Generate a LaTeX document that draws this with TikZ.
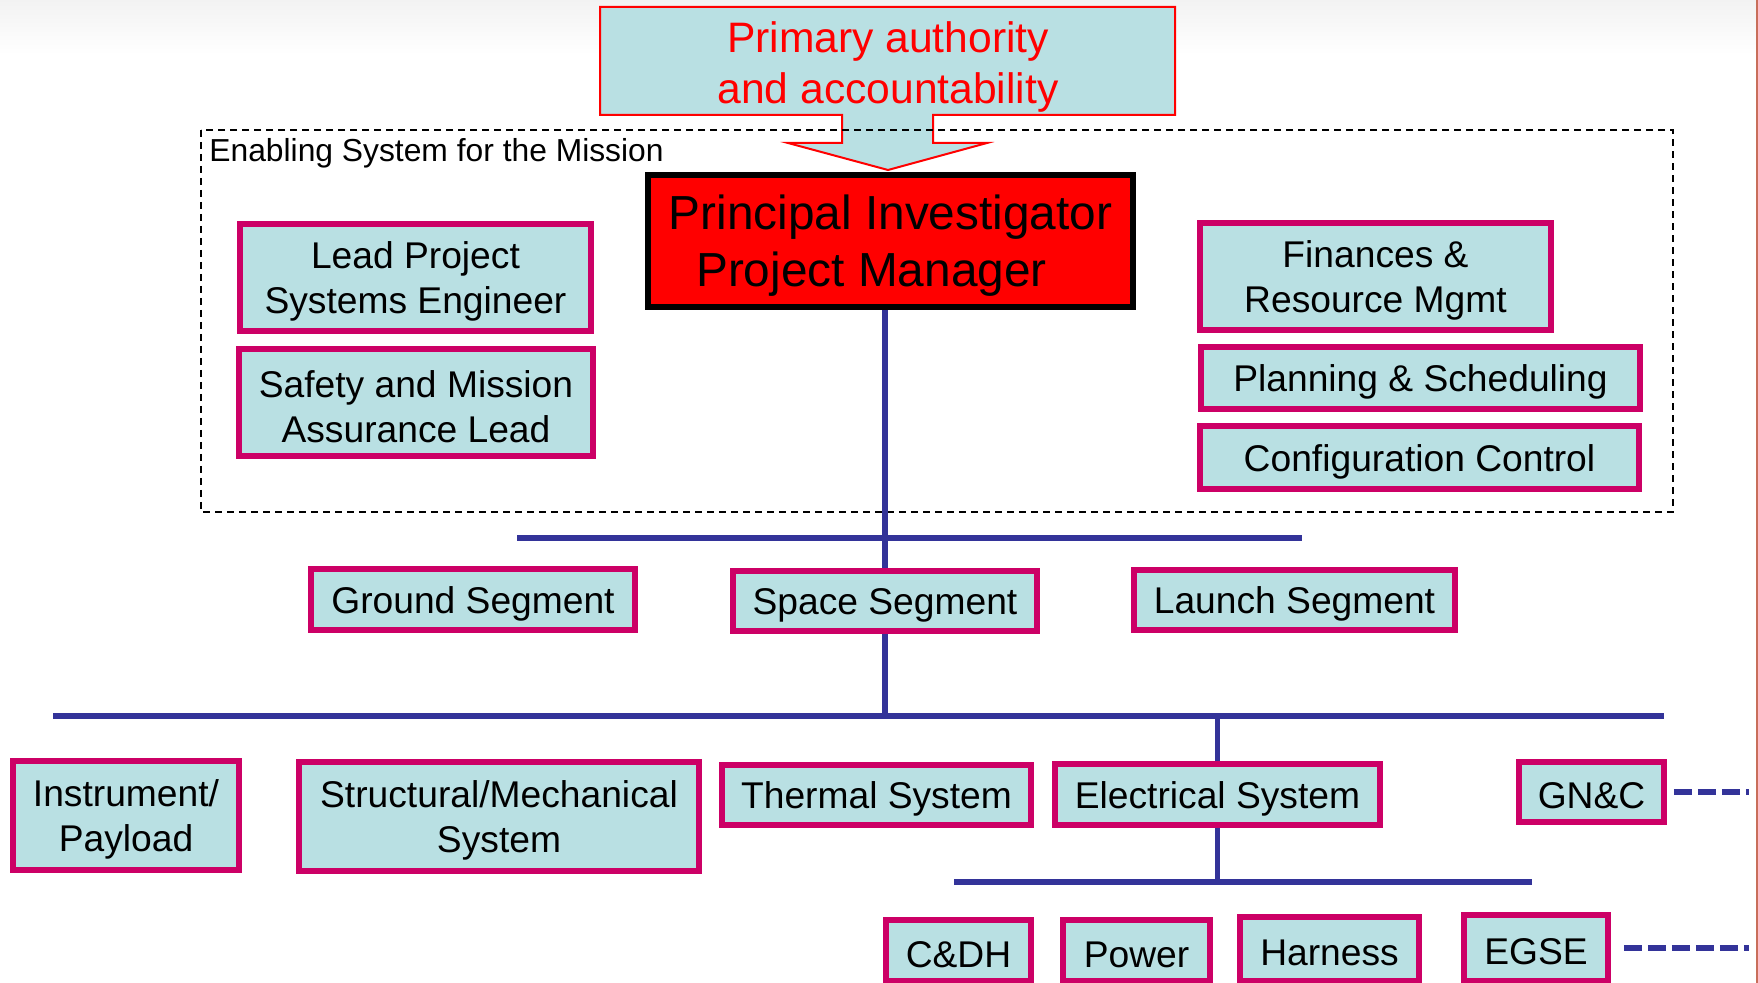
\documentclass[tikz,border=0pt]{standalone}
\usepackage{fontspec}
\setmainfont{Liberation Sans}

\definecolor{boxfill}{RGB}{185,224,227}
\definecolor{boxedge}{RGB}{204,0,102}
\definecolor{busblue}{RGB}{51,51,153}
\definecolor{slideedge}{RGB}{200,110,90}

\tikzset{
  % box given by the corners of its border line (in pixel units)
  span/.style n args={4}{at={({(#1+#3)/2},{(#2+#4)/2})},
    minimum width={(#3-#1)*0.5pt}, minimum height={(#4-#2)*0.5pt}},
  orgbox/.style={draw=boxedge, line width=2.8pt, fill=boxfill, inner sep=0pt},
  boxtext/.style={inner sep=0pt, align=center, text=black,
    font=\fontsize{18.6}{22.4}\selectfont},
  leadbox/.style={draw=black, line width=2.8pt, fill=red, inner sep=0pt},
  leadtext/.style={inner sep=0pt, align=center, text=black,
    font=\fontsize{23.9}{28.6}\selectfont},
  bus/.style={draw=busblue, line width=2.6pt},
  dashbus/.style={draw=busblue, line width=2.6pt, dash pattern=on 9pt off 3pt},
  enclosure/.style={draw=black, line width=0.8pt, dash pattern=on 3.5pt off 2.5pt},
  authority/.style={draw=red, line width=1pt, fill=boxfill},
}

% \orgcell{name}{x1}{y1}{x2}{y2}{text}: framed box with its label set optically centred
\newcommand\orgcell[6]{%
  \node[orgbox, span={#2}{#3}{#4}{#5}] (#1) {};
  \node[boxtext] (#1-label) at ([yshift=-2pt]#1.center) {#6};}

\begin{document}
\begin{tikzpicture}[x=0.5pt,y=-0.5pt]
\useasboundingbox (0,0) rectangle (1758,983);

% faint slide header band
\shade[top color=black!5, bottom color=white] (0,0) rectangle (1758,55);

% authority callout with downward arrow
\draw[authority] (600,7) -- (1175,7) -- (1175,115) -- (933,115) -- (933,143)
  -- (987,143) -- (888,170) -- (788,143) -- (842,143) -- (842,115)
  -- (600,115) -- cycle;
\node[text=red, align=center, font=\fontsize{21.3}{25.2}\selectfont] (auth)
  at (888,67) {Primary authority\\and accountability};

% enabling system enclosure
\draw[enclosure] (201,130) rectangle (1673,512);
\node[anchor=base west, inner sep=0pt, font=\fontsize{15.9}{19}\selectfont] (encl)
  at (209,162) {Enabling System for the Mission};

% project leadership
\node[leadbox, span={648}{175}{1133}{307}] (pi) {};
\node[leadtext] (pi-label) at ([yshift=-2.2pt]pi.center)
  {Principal Investigator\\Project Manager\rule{19pt}{0pt}};

\orgcell{lpse}{240}{224}{591}{331}{Lead Project\\Systems Engineer}
\orgcell{sma}{239}{349}{593}{456}{Safety and Mission\\Assurance Lead}
\orgcell{fin}{1200}{223}{1551}{330}{Finances \&\\Resource Mgmt}
\orgcell{plan}{1201}{347}{1640}{409}{Planning \& Scheduling}
\orgcell{cfg}{1200}{426}{1639}{489}{Configuration Control}

% segments
\orgcell{ground}{311}{569}{635}{630}{Ground Segment}
\orgcell{space}{733}{571}{1037}{631}{Space Segment}
\orgcell{launch}{1134}{570}{1455}{630}{Launch Segment}

% space segment subsystems
\orgcell{instr}{13}{761}{239}{870}{Instrument/\\Payload}
\orgcell{struct}{299}{762}{699}{871}{Structural/Mechanical\\System}
\orgcell{thermal}{722}{765}{1031}{825}{Thermal System}
\orgcell{elec}{1055}{764}{1380}{825}{Electrical System}
\orgcell{gnc}{1519}{762}{1664}{822}{GN\&C}

% electrical subsystems
\orgcell{cdh}{886}{920}{1031}{981}{C\&DH}
\orgcell{power}{1063}{920}{1210}{981}{Power}
\orgcell{harness}{1240}{917}{1419}{981}{Harness}
\orgcell{egse}{1464}{915}{1608}{981}{EGSE}

% bus lines
\coordinate (bus1w) at (517,538);
\coordinate (bus1e) at (1302,538);
\coordinate (bus2w) at (53,716);
\coordinate (bus2e) at (1664,716);
\coordinate (bus3w) at (954,882);
\coordinate (bus3e) at (1532,882);
\coordinate (gncend) at (1749,792);
\coordinate (egseend) at (1749,948);

\draw[bus] (bus1w) -- (bus1e);
\draw[bus] (bus2w) -- (bus2e);
\draw[bus] (bus3w) -- (bus3e);
\draw[bus] (pi.south -| space.north) -- (space.north);
\draw[bus] (space.south) -- (space.south |- bus2w);
\draw[bus] (elec.north) -- (elec.north |- bus2w);
\draw[bus] (elec.south) -- (elec.south |- bus3w);

\draw[dashbus, shorten <=3.5pt] (gnc.east) -- (gncend);
\draw[dashbus, shorten <=6.5pt] (egse.east) -- (egseend);

% slide border on the right
\draw[slideedge, line width=1pt] (1757,0) -- (1757,983);
\end{tikzpicture}
\end{document}
